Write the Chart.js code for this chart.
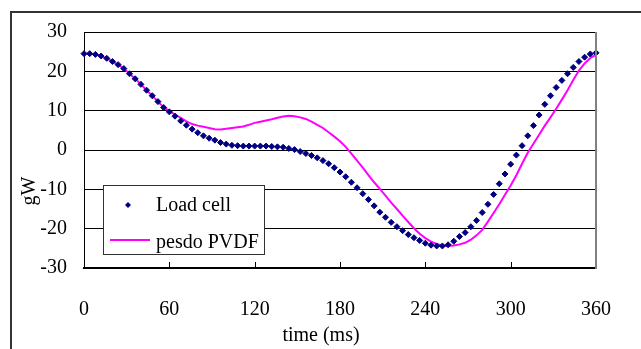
<!DOCTYPE html>
<html>
<head>
<meta charset="utf-8">
<script src="https://cdn.jsdelivr.net/npm/chart.js@4.4.1/dist/chart.umd.min.js"></script>
<style>
  body { margin: 0; background: #fff; }
</style>
</head>
<body>
<canvas id="chart" width="641" height="349"></canvas>
<script>
// time axis (ms)
const times = [0, 4, 8, 12, 16, 20, 24, 28, 32, 36, 40, 44, 48, 52, 56, 60, 64, 68, 72, 76,
  80, 84, 88, 92, 96, 100, 104, 108, 112, 116, 120, 124, 128, 132, 136, 140, 144, 148, 152, 156,
  160, 164, 168, 172, 176, 180, 184, 188, 192, 196, 200, 204, 208, 212, 216, 220, 224, 228, 232, 236,
  240, 244, 248, 252, 256, 260, 264, 268, 272, 276, 280, 284, 288, 292, 296, 300, 304, 308, 312, 316,
  320, 324, 328, 332, 336, 340, 344, 348, 352, 356, 360];

// gW
const loadCell = [24.5, 24.5, 24.3, 23.9, 23.3, 22.5, 21.7, 20.7, 19.4, 18.1, 16.7, 15.2, 13.8, 12.3, 10.8, 9.7, 8.6, 7.4, 6.3, 5.3,
  4.4, 3.6, 3.0, 2.5, 1.9, 1.5, 1.2, 1.1, 1.0, 1.0, 1.0, 1.0, 1.0, 0.9, 0.8, 0.7, 0.4, 0.1, -0.4, -0.9,
  -1.4, -2.0, -2.7, -3.5, -4.5, -5.6, -6.8, -8.2, -9.6, -11.1, -12.6, -14.2, -15.8, -17.1, -18.4, -19.5, -20.5, -21.5, -22.3, -23.0,
  -23.7, -24.2, -24.4, -24.4, -24.1, -23.2, -22.0, -21.0, -19.5, -17.9, -15.9, -13.8, -11.3, -8.6, -6.1, -3.6, -1.3, 1.1, 3.6, 6.2,
  8.9, 11.6, 13.8, 15.9, 17.7, 19.4, 21.0, 22.5, 23.6, 24.4, 24.7];

const pvdf = [24.5, 24.5, 24.3, 23.9, 23.3, 22.5, 21.7, 20.7, 19.4, 18.1, 16.7, 15.2, 13.8, 12.3, 10.9, 9.9, 9.0, 8.2, 7.3, 6.6,
  6.2, 5.9, 5.6, 5.3, 5.2, 5.4, 5.6, 5.8, 6.0, 6.4, 6.9, 7.2, 7.5, 7.8, 8.2, 8.5, 8.7, 8.6, 8.3, 7.9,
  7.2, 6.4, 5.6, 4.5, 3.4, 2.2, 0.8, -0.9, -2.7, -4.5, -6.4, -8.2, -9.9, -11.6, -13.4, -15.0, -16.7, -18.3, -19.9, -21.3,
  -22.4, -23.3, -23.9, -24.3, -24.4, -24.3, -24.0, -23.6, -22.8, -21.7, -20.3, -18.2, -16.0, -13.8, -11.4, -9.0, -6.4, -3.5, -0.7, 1.6,
  3.9, 6.2, 8.3, 10.5, 12.8, 15.2, 17.8, 20.2, 22.0, 23.4, 24.2];

const seriesNames = ["Load cell", "pesdo PVDF"];
const seriesColors = ["#000080", "#ff00ff"];
const xTicks = [0, 60, 120, 180, 240, 300, 360];
const xTitle = "time (ms)";
const yTitle = "gW";

const FONT = "'Liberation Serif', 'Times New Roman', serif";
Chart.defaults.font.family = FONT;
Chart.defaults.font.size = 20;
Chart.defaults.color = "#000";

const pts = (ys) => times.map((t, i) => ({ x: t, y: ys[i] }));

// outer frame + white background
const frame = {
  id: "frame",
  beforeDraw(chart) {
    const c = chart.ctx;
    c.save();
    c.fillStyle = "#fff";
    c.fillRect(0, 0, chart.width, chart.height);
    c.strokeStyle = "#333";
    c.lineWidth = 2;
    c.strokeRect(11, 12, chart.width + 20, chart.height + 20);
    c.restore();
  }
};

// right border, inner x ticks, titles, legend box
const extras = {
  id: "extras",
  afterDraw(chart) {
    const c = chart.ctx;
    const a = chart.chartArea;
    const xs = chart.scales.x;
    c.save();
    c.strokeStyle = "#808080";
    c.lineWidth = 2;
    c.beginPath(); c.moveTo(a.right, a.top); c.lineTo(a.right, a.bottom + 1); c.stroke();

    c.strokeStyle = "#000";
    c.lineWidth = 1;
    xTicks.slice(1, -1).forEach(v => {
      const px = Math.round(xs.getPixelForValue(v)) + 0.5;
      c.beginPath(); c.moveTo(px, a.bottom - 6); c.lineTo(px, a.bottom); c.stroke();
    });

    c.fillStyle = "#000";
    c.font = "20px " + FONT;
    c.textAlign = "center";
    c.textBaseline = "middle";
    c.fillText(xTitle, 321, 336);
    c.save();
    c.translate(30, 191);
    c.rotate(-Math.PI / 2);
    c.fillText(yTitle, 0, 0);
    c.restore();

    // legend
    c.fillStyle = "#fff";
    c.fillRect(103, 185, 161, 69);
    c.strokeStyle = "#333";
    c.lineWidth = 1;
    c.strokeRect(103.5, 185.5, 161, 69);
    c.fillStyle = seriesColors[0];
    c.beginPath();
    c.moveTo(128, 202); c.lineTo(131, 205); c.lineTo(128, 208); c.lineTo(125, 205); c.closePath();
    c.fill();
    c.strokeStyle = seriesColors[1];
    c.lineWidth = 2;
    c.beginPath(); c.moveTo(110, 240); c.lineTo(150, 240); c.stroke();
    c.fillStyle = "#000";
    c.textAlign = "left";
    c.fillText(seriesNames[0], 156, 206);
    c.fillText(seriesNames[1], 156, 243);
    c.restore();
  }
};

new Chart(document.getElementById("chart"), {
  type: "line",
  data: {
    datasets: [
      {
        label: seriesNames[0], data: pts(loadCell), showLine: false,
        pointStyle: "rectRot", pointRadius: 3, pointBorderWidth: 1,
        pointBackgroundColor: seriesColors[0], pointBorderColor: seriesColors[0],
        clip: false
      },
      {
        label: seriesNames[1], data: pts(pvdf), borderColor: seriesColors[1],
        borderWidth: 2, pointRadius: 0, tension: 0, clip: false
      }
    ]
  },
  options: {
    responsive: false,
    animation: false,
    layout: { padding: { top: 32, right: 39, left: 0, bottom: 0 }, autoPadding: false },
    plugins: { legend: { display: false }, tooltip: { enabled: false } },
    scales: {
      x: {
        type: "linear", min: 0, max: 360,
        afterBuildTicks: (s) => { s.ticks = xTicks.map(v => ({ value: v })); },
        afterFit: (s) => { s.height = 349 - 268; },
        grid: { drawOnChartArea: false, drawTicks: false },
        border: { color: "#000", width: 2 },
        ticks: { padding: 30, maxRotation: 0, color: "#000" }
      },
      y: {
        min: -30, max: 30,
        afterFit: (s) => { s.width = 84; },
        grid: { color: "#000", drawTicks: false },
        border: { color: "#000", width: 1 },
        ticks: { stepSize: 10, padding: 17, color: "#000" }
      }
    }
  },
  plugins: [frame, extras]
});
</script>
</body>
</html>
